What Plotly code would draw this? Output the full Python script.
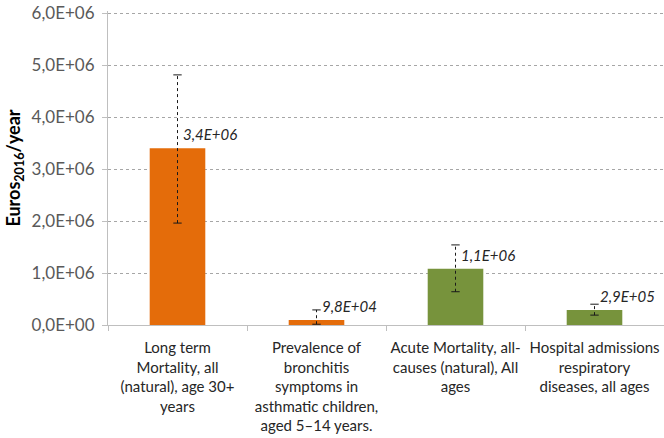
import plotly.graph_objects as go

categories = [
    "Long term<br>Mortality, all<br>(natural), age 30+<br>years",
    "Prevalence of<br>bronchitis<br>symptoms in<br>asthmatic children,<br>aged 5–14 years.",
    "Acute Mortality, all-<br>causes (natural), All<br>ages",
    "Hospital admissions<br>respiratory<br>diseases, all ages",
]
values = [3.4e6, 9.8e4, 1.08e6, 2.9e5]
err_high = [4.81e6, 2.9e5, 1.54e6, 4.0e5]
err_low = [1.96e6, 1.5e4, 0.64e6, 1.9e5]
value_labels = ["3,4E+06", "9,8E+04", "1,1E+06", "2,9E+05"]
bar_colors = ["#E46C0A", "#E46C0A", "#77933C", "#77933C"]
tick_vals = [0, 1e6, 2e6, 3e6, 4e6, 5e6, 6e6]
tick_text = ["0,0E+00", "1,0E+06", "2,0E+06", "3,0E+06", "4,0E+06", "5,0E+06", "6,0E+06"]

FONT = "Lato, Open Sans, sans-serif"

fig = go.Figure()
fig.add_trace(go.Bar(
    x=categories, y=values, marker=dict(color=bar_colors, line=dict(width=0)),
    showlegend=False, hoverinfo="skip",
))
for c, lo, hi in zip(categories, err_low, err_high):
    fig.add_trace(go.Scatter(
        x=[c, c], y=[lo, hi], mode="lines+markers",
        line=dict(color="#1a1a1a", width=1, dash="dot"),
        marker=dict(symbol="line-ew", size=6, line=dict(color="#1a1a1a", width=1)),
        showlegend=False, hoverinfo="skip",
    ))
for c, v, t in zip(categories, values, value_labels):
    fig.add_annotation(
        x=c, y=v, text=f"<i>{t}</i>", showarrow=False,
        xanchor="left", yanchor="middle", xshift=3, yshift=14,
        font=dict(family=FONT, size=15, color="#262626"),
    )

# plot area: 314 px tall, top tick (6E+06) sits 2 px below its top edge
y_top = max(tick_vals) * 314 / 312

fig.update_layout(
    width=664, height=438,
    margin=dict(l=108, r=0, t=11, b=113),
    paper_bgcolor="white", plot_bgcolor="white",
    bargap=0.6,
    font=dict(family=FONT, size=14, color="#262626"),
    xaxis=dict(
        automargin=False, tickangle=0,
        tickson="boundaries", ticks="outside", ticklen=5, tickcolor="#BFBFBF",
        ticklabelstandoff=9,
        showline=True, linecolor="#BFBFBF", linewidth=1,
        tickfont=dict(family=FONT, size=15, color="#262626"),
        showgrid=False,
    ),
    yaxis=dict(
        automargin=False,
        range=[0, y_top], tickvals=tick_vals, ticktext=tick_text,
        ticklabeloverflow="allow",
        showline=True, linecolor="#BFBFBF", linewidth=1,
        ticks="outside", ticklen=5, tickcolor="#BFBFBF", ticklabelstandoff=4,
        showgrid=True, gridcolor="#A6A6A6", griddash="dot", gridwidth=1,
        zeroline=False,
        tickfont=dict(family=FONT, size=17, color="#595959"),
        title=dict(text="<b>Euros<sub>2016</sub>/year</b>", font=dict(family=FONT, size=18, color="#000000"), standoff=6),
    ),
)
fig.write_html("out.html", config={"displayModeBar": False},
               post_script="document.body.style.margin='0';")
